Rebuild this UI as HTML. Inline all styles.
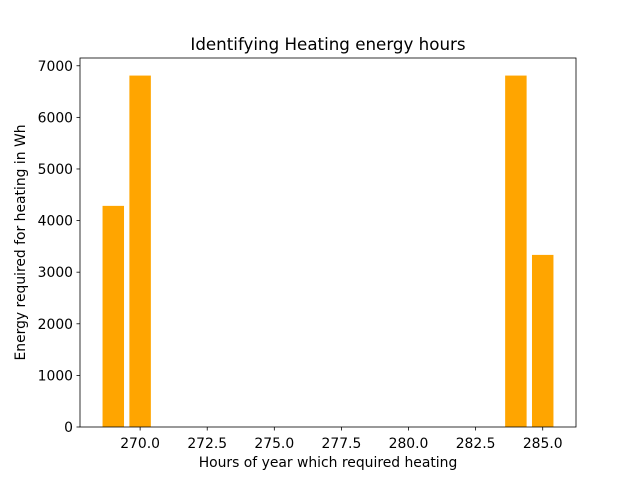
<!DOCTYPE html>
<html><head><meta charset="utf-8"><style>
body{margin:0;background:#fff;}
svg text{font-family:"DejaVu Sans","Liberation Sans",sans-serif;fill:#000;}
</style></head><body>
<svg id="chart" width="640" height="480">
<rect width="640" height="480" fill="#fff"/>
<text x="328" y="50" font-size="16.7" text-anchor="middle">Identifying Heating energy hours</text>
<g id="bars"></g>
<g id="xticks"></g>
<g id="yticks"></g>
<rect x="80" y="58" width="496" height="369" fill="none" stroke="#000" stroke-width="0.8"/>
<text x="328" y="467" font-size="13.9" text-anchor="middle">Hours of year which required heating</text>
<text transform="translate(25,242.5) rotate(-90)" font-size="13.9" text-anchor="middle">Energy required for heating in Wh</text>
</svg>
<script>
const hours=[269,270,284,285];
const energy=[4285,6810,6810,3335];
const xTicks=[270,272.5,275,277.5,280,282.5,285];
const yTicks=[0,1000,2000,3000,4000,5000,6000,7000];
const xMin=267.76,xMax=286.24,yMax=7150.5;
const L=80,R=576,T=58,B=427;
const sx=v=>L+(v-xMin)/(xMax-xMin)*(R-L);
const sy=v=>B-v/yMax*(B-T);
const ns="http://www.w3.org/2000/svg";
const bars=document.getElementById('bars');
hours.forEach((h,i)=>{
 const r=document.createElementNS(ns,'rect');
 const x0=sx(h-0.4),x1=sx(h+0.4);
 r.setAttribute('x',x0);r.setAttribute('width',x1-x0);
 r.setAttribute('y',sy(energy[i]));r.setAttribute('height',B-sy(energy[i]));
 r.setAttribute('fill','#ffa500');
 
 
 bars.appendChild(r);
});
const xg=document.getElementById('xticks');
xTicks.forEach(t=>{
 const x=sx(t);
 const l=document.createElementNS(ns,'line');
 l.setAttribute('x1',x);l.setAttribute('x2',x);l.setAttribute('y1',B);l.setAttribute('y2',B+3.5);
 l.setAttribute('stroke','#000');l.setAttribute('stroke-width','0.8');
 
 
 xg.appendChild(l);
 const tx=document.createElementNS(ns,'text');
 tx.setAttribute('x',x);tx.setAttribute('y',B+21);tx.setAttribute('font-size','13.9');tx.setAttribute('text-anchor','middle');
 tx.textContent=t.toFixed(1);
 
 
 xg.appendChild(tx);
});
const yg=document.getElementById('yticks');
yTicks.forEach(t=>{
 const y=sy(t);
 const l=document.createElementNS(ns,'line');
 l.setAttribute('x1',L-3.5);l.setAttribute('x2',L);l.setAttribute('y1',y);l.setAttribute('y2',y);
 l.setAttribute('stroke','#000');l.setAttribute('stroke-width','0.8');
 
 
 yg.appendChild(l);
 const tx=document.createElementNS(ns,'text');
 tx.setAttribute('x',L-7);tx.setAttribute('y',y+5);tx.setAttribute('font-size','13.9');tx.setAttribute('text-anchor','end');
 tx.textContent=t;
 
 
 yg.appendChild(tx);
});
</script>
</body></html>
